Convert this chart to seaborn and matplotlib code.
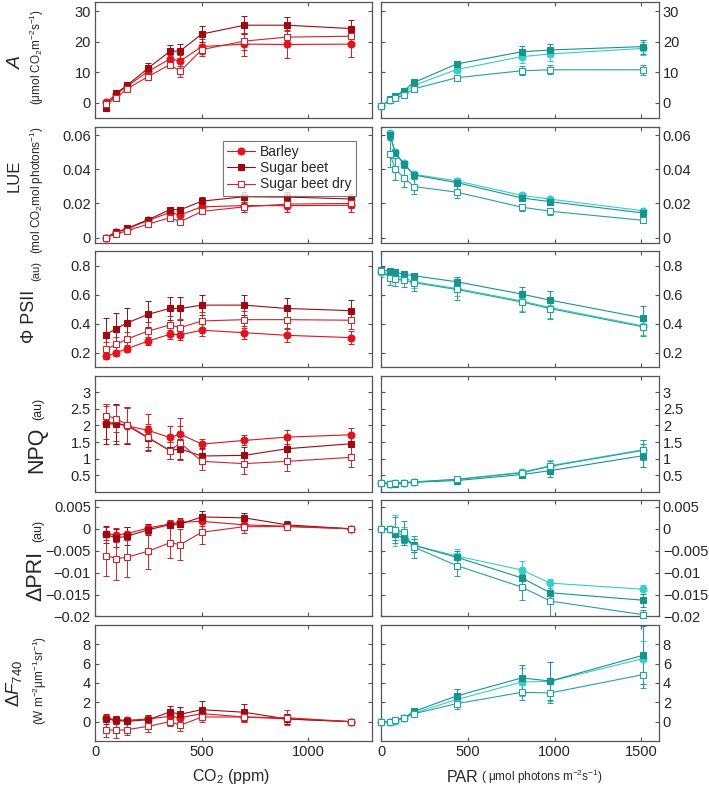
import numpy as np
import matplotlib.pyplot as plt
import seaborn as sns

# x positions
co2 = [50, 100, 150, 250, 350, 400, 500, 700, 900, 1200]
par = [0, 50, 80, 130, 190, 435, 810, 975, 1510]

# ---- A (net assimilation) ----
A_co2_barley = [0.2, 2.8, 5.4, 10.3, 14.3, 13.7, 18.4, 19.2, 19.1, 19.2]
A_co2_barley_err = [0.6, 0.8, 0.7, 1.3, 1.5, 1.8, 2.5, 3.8, 4.3, 4.3]
A_co2_beet = [-1.7, 3.2, 5.7, 11.4, 16.8, 17.0, 22.5, 25.4, 25.4, 24.3]
A_co2_beet_err = [1.0, 0.7, 0.7, 1.5, 2.0, 2.2, 2.6, 3.0, 2.8, 2.7]
A_co2_dry = [-0.3, 1.6, 4.6, 8.6, 12.5, 10.3, 17.4, 20.2, 21.5, 21.8]
A_co2_dry_err = [0.8, 1.0, 0.8, 1.0, 1.2, 1.8, 2.0, 2.8, 2.2, 2.2]

A_par_barley = [-1.2, 1.0, 1.8, 3.5, 5.7, 10.9, 15.1, 16.0, 17.8]
A_par_barley_err = [0.5, 0.4, 0.4, 0.5, 0.7, 1.3, 2.0, 2.2, 2.0]
A_par_beet = [-1.2, 1.1, 2.2, 4.0, 6.7, 12.7, 16.7, 17.3, 18.4]
A_par_beet_err = [0.5, 0.4, 0.4, 0.5, 0.7, 1.0, 1.8, 2.0, 2.3]
A_par_dry = [-1.2, 0.8, 1.5, 2.6, 4.6, 8.2, 10.5, 10.8, 10.8]
A_par_dry_err = [0.5, 0.4, 0.4, 0.4, 0.5, 0.8, 1.4, 1.5, 1.6]

# ---- LUE ----
LUE_co2_barley = [0.0, 0.0032, 0.005, 0.0101, 0.0146, 0.0133, 0.018, 0.0187, 0.0187, 0.0189]
LUE_co2_barley_err = [0.0003, 0.0005, 0.0005, 0.001, 0.0012, 0.0015, 0.0025, 0.0035, 0.004, 0.0037]
LUE_co2_beet = [0.0, 0.003, 0.0054, 0.0105, 0.0163, 0.0163, 0.0213, 0.0239, 0.0237, 0.0226]
LUE_co2_beet_err = [0.0003, 0.0004, 0.0005, 0.001, 0.0012, 0.0015, 0.0025, 0.003, 0.003, 0.0028]
LUE_co2_dry = [0.0, 0.002, 0.004, 0.0079, 0.0116, 0.0093, 0.0153, 0.018, 0.0196, 0.02]
LUE_co2_dry_err = [0.0003, 0.0006, 0.0005, 0.0008, 0.001, 0.0015, 0.0018, 0.0028, 0.0025, 0.0025]

LUE_par_barley = [np.nan, 0.061, 0.05, 0.0435, 0.037, 0.0332, 0.0247, 0.0225, 0.0157]
LUE_par_barley_err = [np.nan, 0.0015, 0.0015, 0.0015, 0.0015, 0.0015, 0.0015, 0.0015, 0.001]
LUE_par_beet = [np.nan, 0.060, 0.0497, 0.0429, 0.0366, 0.0322, 0.0232, 0.021, 0.0144]
LUE_par_beet_err = [np.nan, 0.002, 0.002, 0.0018, 0.0015, 0.0018, 0.002, 0.002, 0.0012]
LUE_par_dry = [np.nan, 0.0491, 0.0403, 0.035, 0.0298, 0.0266, 0.0178, 0.0154, 0.0101]
LUE_par_dry_err = [np.nan, 0.008, 0.0065, 0.0055, 0.0045, 0.0035, 0.002, 0.002, 0.001]

# ---- PhiPSII ----
PSII_co2_barley = [0.175, 0.2, 0.228, 0.281, 0.327, 0.325, 0.355, 0.338, 0.32, 0.304]
PSII_co2_barley_err = [0.02, 0.02, 0.025, 0.03, 0.03, 0.035, 0.04, 0.045, 0.045, 0.045]
PSII_co2_beet = [0.325, 0.366, 0.405, 0.465, 0.505, 0.505, 0.528, 0.528, 0.505, 0.49]
PSII_co2_beet_err = [0.115, 0.11, 0.105, 0.09, 0.08, 0.08, 0.07, 0.07, 0.075, 0.075]
PSII_co2_dry = [0.223, 0.258, 0.295, 0.35, 0.391, 0.373, 0.419, 0.428, 0.428, 0.424]
PSII_co2_dry_err = [0.05, 0.05, 0.05, 0.06, 0.06, 0.06, 0.06, 0.06, 0.06, 0.06]

PSII_par_barley = [0.754, 0.74, 0.73, 0.717, 0.689, 0.643, 0.557, 0.511, 0.385]
PSII_par_barley_err = [0.03, 0.03, 0.03, 0.03, 0.04, 0.05, 0.07, 0.07, 0.06]
PSII_par_beet = [0.77, 0.763, 0.754, 0.742, 0.73, 0.689, 0.604, 0.562, 0.44]
PSII_par_beet_err = [0.02, 0.02, 0.02, 0.02, 0.02, 0.03, 0.05, 0.06, 0.08]
PSII_par_dry = [0.763, 0.717, 0.707, 0.70, 0.682, 0.636, 0.55, 0.504, 0.378]
PSII_par_dry_err = [0.03, 0.05, 0.05, 0.05, 0.06, 0.07, 0.07, 0.07, 0.06]

# ---- NPQ ----
NPQ_co2_barley = [2.09, 2.07, 1.99, 1.85, 1.64, 1.74, 1.44, 1.55, 1.65, 1.72]
NPQ_co2_barley_err = [0.5, 0.55, 0.55, 0.5, 0.35, 0.5, 0.15, 0.15, 0.2, 0.2]
NPQ_co2_beet = [2.05, 2.05, 2.0, 1.62, 1.25, 1.29, 1.08, 1.1, 1.3, 1.45]
NPQ_co2_beet_err = [0.6, 0.6, 0.55, 0.35, 0.25, 0.3, 0.25, 0.25, 0.3, 0.3]
NPQ_co2_dry = [2.3, 2.21, 2.02, 1.64, 1.24, 1.47, 0.92, 0.85, 0.92, 1.04]
NPQ_co2_dry_err = [0.35, 0.4, 0.55, 0.4, 0.25, 0.5, 0.25, 0.3, 0.3, 0.3]

NPQ_par_barley = [0.27, 0.25, 0.26, 0.27, 0.29, 0.37, 0.59, 0.79, 1.27]
NPQ_par_barley_err = [0.03, 0.03, 0.03, 0.03, 0.03, 0.05, 0.1, 0.18, 0.3]
NPQ_par_beet = [0.27, 0.24, 0.25, 0.27, 0.29, 0.34, 0.52, 0.64, 1.09]
NPQ_par_beet_err = [0.03, 0.03, 0.03, 0.03, 0.03, 0.05, 0.1, 0.18, 0.35]
NPQ_par_dry = [0.28, 0.25, 0.27, 0.28, 0.30, 0.38, 0.57, 0.77, 1.25]
NPQ_par_dry_err = [0.03, 0.03, 0.03, 0.03, 0.03, 0.05, 0.1, 0.15, 0.3]

# ---- delta PRI ----
PRI_co2_barley = [-0.0011, -0.0014, -0.0011, 0.0002, 0.0011, 0.0015, 0.0017, 0.0009, 0.0006, 0.0]
PRI_co2_barley_err = [0.0015, 0.0015, 0.0015, 0.001, 0.0008, 0.001, 0.001, 0.0012, 0.0008, 0.0]
PRI_co2_beet = [-0.0013, -0.0021, -0.0017, -0.0002, 0.0009, 0.0011, 0.0027, 0.0025, 0.0009, 0.0]
PRI_co2_beet_err = [0.002, 0.002, 0.002, 0.0012, 0.0008, 0.0008, 0.0013, 0.0012, 0.0008, 0.0]
PRI_co2_dry = [-0.0061, -0.0068, -0.0065, -0.0051, -0.0032, -0.0036, -0.0008, 0.0005, 0.0005, 0.0]
PRI_co2_dry_err = [0.0047, 0.0048, 0.0045, 0.004, 0.0035, 0.0035, 0.0027, 0.0015, 0.0008, 0.0]

PRI_par_barley = [0.0, 0.0, -0.0004, -0.0017, -0.0038, -0.0062, -0.0094, -0.0124, -0.0138]
PRI_par_barley_err = [0.0, 0.0002, 0.0035, 0.002, 0.0015, 0.0015, 0.002, 0.001, 0.001]
PRI_par_beet = [0.0, 0.0, -0.0011, -0.0023, -0.0038, -0.0065, -0.0112, -0.0146, -0.0163]
PRI_par_beet_err = [0.0, 0.0002, 0.0015, 0.0015, 0.0015, 0.0015, 0.002, 0.002, 0.0015]
PRI_par_dry = [0.0, 0.0, -0.0002, -0.0008, -0.0042, -0.0084, -0.0133, -0.0165, -0.0196]
PRI_par_dry_err = [0.0, 0.0002, 0.003, 0.0025, 0.0025, 0.0023, 0.003, 0.004, 0.001]

# ---- delta F740 ----
F740_co2_barley = [0.38, 0.2, 0.14, 0.28, 0.55, 0.41, 0.83, 0.48, 0.28, 0.0]
F740_co2_barley_err = [0.35, 0.35, 0.3, 0.3, 0.4, 0.5, 0.6, 0.5, 0.5, 0.0]
F740_co2_beet = [0.28, 0.14, 0.03, 0.2, 1.0, 0.76, 1.24, 0.97, 0.28, 0.0]
F740_co2_beet_err = [0.5, 0.4, 0.3, 0.5, 0.6, 0.8, 0.85, 0.9, 0.5, 0.0]
F740_co2_dry = [-0.83, -0.9, -0.83, -0.48, 0.0, -0.38, 0.48, 0.48, 0.41, 0.0]
F740_co2_dry_err = [0.8, 0.8, 0.6, 0.6, 0.5, 0.6, 0.5, 0.5, 0.8, 0.0]

F740_par_barley = [0.0, 0.0, 0.1, 0.35, 0.9, 2.28, 4.1, 4.17, 6.52]
F740_par_barley_err = [0.0, 0.05, 0.1, 0.15, 0.3, 0.6, 1.4, 2.0, 1.8]
F740_par_beet = [0.0, 0.0, 0.14, 0.38, 1.07, 2.66, 4.52, 4.2, 6.86]
F740_par_beet_err = [0.0, 0.05, 0.1, 0.15, 0.25, 0.7, 1.3, 2.0, 3.0]
F740_par_dry = [0.0, 0.0, 0.14, 0.38, 0.83, 1.86, 3.03, 2.97, 4.86]
F740_par_dry_err = [0.0, 0.05, 0.1, 0.15, 0.2, 0.6, 0.8, 1.0, 1.4]

series_names = ["Barley", "Sugar beet", "Sugar beet dry"]

# axis settings per row
ylims = [(-5, 33), (-0.003, 0.065), (0.1, 0.9), (0, 3.5), (-0.02, 0.0065), (-2, 10)]
ytick_vals = [[0, 10, 20, 30], [0, 0.02, 0.04, 0.06], [0.2, 0.4, 0.6, 0.8],
              [0.5, 1, 1.5, 2, 2.5, 3], [-0.02, -0.015, -0.01, -0.005, 0, 0.005], [0, 2, 4, 6, 8]]
ytick_text = [["0", "10", "20", "30"], ["0", "0.02", "0.04", "0.06"], ["0.2", "0.4", "0.6", "0.8"],
              ["0.5", "1", "1.5", "2", "2.5", "3"],
              ["\u22120.02", "\u22120.015", "\u22120.01", "\u22120.005", "0", "0.005"],
              ["0", "2", "4", "6", "8"]]

rows = [
    ((A_co2_barley, A_co2_barley_err), (A_co2_beet, A_co2_beet_err), (A_co2_dry, A_co2_dry_err),
     (A_par_barley, A_par_barley_err), (A_par_beet, A_par_beet_err), (A_par_dry, A_par_dry_err)),
    ((LUE_co2_barley, LUE_co2_barley_err), (LUE_co2_beet, LUE_co2_beet_err), (LUE_co2_dry, LUE_co2_dry_err),
     (LUE_par_barley, LUE_par_barley_err), (LUE_par_beet, LUE_par_beet_err), (LUE_par_dry, LUE_par_dry_err)),
    ((PSII_co2_barley, PSII_co2_barley_err), (PSII_co2_beet, PSII_co2_beet_err), (PSII_co2_dry, PSII_co2_dry_err),
     (PSII_par_barley, PSII_par_barley_err), (PSII_par_beet, PSII_par_beet_err), (PSII_par_dry, PSII_par_dry_err)),
    ((NPQ_co2_barley, NPQ_co2_barley_err), (NPQ_co2_beet, NPQ_co2_beet_err), (NPQ_co2_dry, NPQ_co2_dry_err),
     (NPQ_par_barley, NPQ_par_barley_err), (NPQ_par_beet, NPQ_par_beet_err), (NPQ_par_dry, NPQ_par_dry_err)),
    ((PRI_co2_barley, PRI_co2_barley_err), (PRI_co2_beet, PRI_co2_beet_err), (PRI_co2_dry, PRI_co2_dry_err),
     (PRI_par_barley, PRI_par_barley_err), (PRI_par_beet, PRI_par_beet_err), (PRI_par_dry, PRI_par_dry_err)),
    ((F740_co2_barley, F740_co2_barley_err), (F740_co2_beet, F740_co2_beet_err), (F740_co2_dry, F740_co2_dry_err),
     (F740_par_barley, F740_par_barley_err), (F740_par_beet, F740_par_beet_err), (F740_par_dry, F740_par_dry_err)),
]

# colours / markers
red_colors = ["#e0141c", "#9e0a10", "#c8282c"]
teal_colors = ["#38cccb", "#16958f", "#24a29d"]
markers = ["o", "s", "s"]
msizes = [5, 4.5, 4.5]


def draw_series(ax, xs, y, err, color, marker, ms, open_marker):
    ax.errorbar(xs, y, yerr=err, fmt="none", ecolor=color, elinewidth=0.7,
                capsize=2.2, capthick=0.7, zorder=2)
    sns.lineplot(x=xs, y=y, ax=ax, color=color, marker=marker, markersize=ms,
                 markerfacecolor="white" if open_marker else color,
                 markeredgecolor=color, markeredgewidth=0.8, linewidth=0.8,
                 estimator=None, sort=False, clip_on=False, zorder=3)
    return ax.lines[-1]


sns.set_theme(style="ticks")
plt.rcParams["font.family"] = ["Liberation Sans", "DejaVu Sans"]
plt.rcParams["mathtext.fontset"] = "custom"
plt.rcParams["mathtext.rm"] = "Liberation Sans"
plt.rcParams["mathtext.it"] = "Liberation Sans:italic"
plt.rcParams["axes.edgecolor"] = "#555555"
plt.rcParams["axes.linewidth"] = 0.9

fig, axes = plt.subplots(6, 2, figsize=(7.09, 7.91), dpi=100,
                         gridspec_kw=dict(left=0.134, right=0.929, top=0.9975, bottom=0.0632,
                                          wspace=0.032, hspace=0.073))

legend_handles = []
for r, row in enumerate(rows):
    for c in range(2):
        ax = axes[r, c]
        xs = co2 if c == 0 else par
        cols = red_colors if c == 0 else teal_colors
        for k in range(3):
            y, e = row[c * 3 + k]
            ln = draw_series(ax, xs, y, e, cols[k], markers[k], msizes[k], k == 2)
            if r == 1 and c == 0:
                legend_handles.append(ln)
        ax.set_ylim(*ylims[r])
        ax.set_yticks(ytick_vals[r])
        ax.set_xlim(0, 1300 if c == 0 else 1600)
        ax.set_xticks([0, 500, 1000] if c == 0 else [0, 500, 1000, 1500])
        ax.set_xlabel("")
        ax.set_ylabel("")
        ax.tick_params(direction="in", length=3, width=0.8, color="#555555",
                       top=True, bottom=True, left=True, right=True,
                       labelsize=10.5, pad=3)
        ax.set_yticklabels(ytick_text[r])
        if c == 1:
            ax.tick_params(labelleft=False, labelright=True)
        if r < 5:
            ax.tick_params(labelbottom=False)
        else:
            ax.set_xticklabels(["0", "500", "1000"] if c == 0 else ["0", "500", "1000", "1500"])
        ax.set_facecolor("white")

# legend in LUE (CO2) panel
leg = axes[1, 0].legend(legend_handles, series_names, loc="upper right",
                        bbox_to_anchor=(0.965, 0.935), fontsize=10, frameon=True,
                        fancybox=False, edgecolor="#555555", handlelength=2.0,
                        borderpad=0.3, labelspacing=0.15, handletextpad=0.4)
leg.get_frame().set_linewidth(0.8)


def ftext(x, y, s, size, **kw):
    fig.text(x / 709, 1 - y / 791, s, fontsize=size, rotation=90,
             ha="center", va="center", **kw)


# y-axis labels
ftext(15, 62, "$\\mathit{A}$", 14)
ftext(37, 57, "(\u03bcmol CO$_2$m$^{-2}$s$^{-1}$)", 8.5)
ftext(14, 176, "LUE", 12)
ftext(37, 190, "(mol CO$_2$mol photons$^{-1}$)", 8.5)
ftext(30, 316, "\u03a6 PSII", 13)
ftext(36, 271, "(au)", 8)
ftext(37, 450, "NPQ", 15.5)
ftext(38, 409, "(au)", 9)
ftext(36, 576, "\u0394PRI", 15.5)
ftext(38, 531, "(au)", 9)
ftext(14, 683, "\u0394$\\mathit{F}_{740}$", 13.5)
ftext(40, 680, "(W m$^{-2}$\u03bcm$^{-1}$sr$^{-1}$)", 8.5)

# x-axis labels
fig.text(231 / 709, 1 - 777 / 791, "CO$_2$ (ppm)", fontsize=11.5, ha="center", va="center")
fig.text(478 / 709, 1 - 777 / 791, "PAR", fontsize=11.5, ha="right", va="center")
fig.text(481 / 709, 1 - 777 / 791, "( \u03bcmol photons m$^{-2}$s$^{-1}$)", fontsize=8.5,
         ha="left", va="center")

fig.savefig("out.png", dpi=100, facecolor="white")
